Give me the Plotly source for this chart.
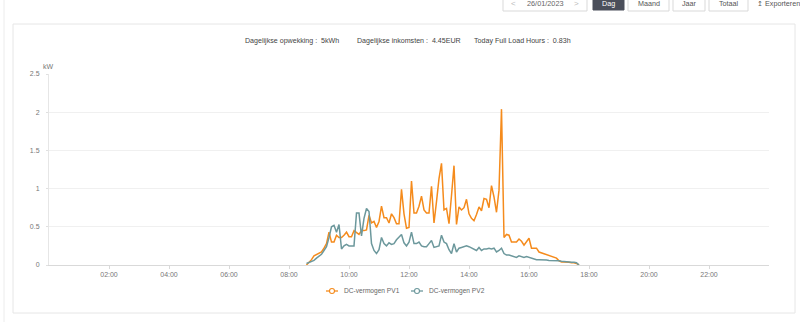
import pandas as pd
import plotly.graph_objects as go

# ---- data -----------------------------------------------------------------
day = "2023-01-26"
start_time = "08:35"          # first sample of the day
sample_step = "5min"          # inverter logging interval

# DC power per string, kW, one value per sample
pv1_kw = [
    0.00, 0.035, 0.07, 0.12, 0.14, 0.16, 0.17, 0.22, 0.28, 0.43,
    0.30, 0.30, 0.39, 0.36, 0.36, 0.39, 0.43, 0.37, 0.37, 0.45,
    0.42, 0.40, 0.45, 0.45, 0.46, 0.65, 0.55, 0.57, 0.49, 0.57,
    0.77, 0.62, 0.62, 0.55, 0.67, 0.62, 0.54, 0.54, 0.99, 0.67,
    0.48, 0.49, 1.10, 0.68, 0.68, 0.77, 0.90, 0.72, 0.68, 0.68,
    1.03, 0.55, 0.83, 1.13, 1.33, 0.72, 0.74, 0.54, 0.91, 1.30,
    0.53, 0.76, 0.72, 0.75, 0.86, 0.67, 0.61, 0.58, 0.66, 0.76,
    0.71, 0.87, 0.86, 0.75, 1.04, 0.89, 0.69, 0.98, 2.04, 0.36,
    0.40, 0.39, 0.30, 0.30, 0.30, 0.34, 0.31, 0.26, 0.30, 0.35,
    0.22, 0.22, 0.22, 0.17, 0.16, 0.15, 0.14, 0.13, 0.12, 0.11,
    0.09, 0.055, 0.04, 0.04, 0.04, 0.035, 0.03, 0.03, 0.02, 0.00,
]
pv2_kw = [
    0.02, 0.03, 0.045, 0.06, 0.09, 0.11, 0.14, 0.19, 0.24, 0.36,
    0.50, 0.52, 0.43, 0.53, 0.21, 0.25, 0.27, 0.25, 0.25, 0.25,
    0.68, 0.68, 0.38, 0.61, 0.74, 0.70, 0.28, 0.19, 0.15, 0.20,
    0.36, 0.28, 0.25, 0.29, 0.27, 0.28, 0.33, 0.37, 0.40, 0.29,
    0.25, 0.30, 0.43, 0.28, 0.28, 0.30, 0.25, 0.24, 0.24, 0.28,
    0.32, 0.23, 0.24, 0.25, 0.39, 0.30, 0.28, 0.20, 0.15, 0.28,
    0.17, 0.22, 0.23, 0.24, 0.25, 0.24, 0.22, 0.21, 0.19, 0.23,
    0.19, 0.21, 0.21, 0.22, 0.21, 0.22, 0.17, 0.19, 0.22, 0.15,
    0.13, 0.13, 0.12, 0.11, 0.10, 0.12, 0.11, 0.10, 0.11, 0.10,
    0.09, 0.07, 0.07, 0.07, 0.07, 0.065, 0.065, 0.06, 0.06, 0.06,
    0.06, 0.055, 0.05, 0.045, 0.04, 0.035, 0.035, 0.035, 0.03, 0.00,
]

series_names = ["DC-vermogen PV1", "DC-vermogen PV2"]
series_colors = ["#f58b1c", "#6c989c"]

x_tick_labels = ["02:00", "04:00", "06:00", "08:00", "10:00",
                 "12:00", "14:00", "16:00", "18:00", "20:00", "22:00"]
y_tick_values = [0, 0.5, 1, 1.5, 2, 2.5]
y_tick_labels = ["0", "0.5", "1", "1.5", "2", "2.5"]
y_unit = "kW"

stat_labels = ["Dagelijkse opwekking", "Dagelijkse inkomsten", "Today Full Load Hours"]
stat_values = ["5kWh", "4.45EUR", "0.83h"]

date_label = "26/01/2023"
period_buttons = ["Dag", "Maand", "Jaar", "Totaal"]
export_label = "\u21a5 Exporteren"

# ---- geometry helpers (pixel -> paper) --------------------------------------
W, H = 800, 322
ML, MR, MT, MB = 49, 31, 74, 57
PW, PH = W - ML - MR, H - MT - MB


def fx(px):
    return (px - ML) / PW


def fy(py):
    return (H - MB - py) / PH


FONT = "Liberation Sans, Arial, sans-serif"

times = pd.date_range(f"{day} {start_time}", periods=len(pv1_kw), freq=sample_step)
x_ticks = [pd.Timestamp(f"{day} {t}") for t in x_tick_labels]

fig = go.Figure()
for name, color, vals in zip(series_names, series_colors, [pv1_kw, pv2_kw]):
    fig.add_trace(go.Scatter(
        x=times, y=vals, mode="lines", name=name, showlegend=False,
        line=dict(color=color, width=1.5), hoverinfo="x+y+name",
    ))

shapes = []
annotations = []

# card outline and left page edge
shapes.append(dict(type="rect", xref="paper", yref="paper",
                   x0=fx(13), x1=fx(795), y0=fy(313), y1=fy(24),
                   line=dict(color="#e6e6e6", width=1), fillcolor="rgba(0,0,0,0)", layer="below"))
shapes.append(dict(type="line", xref="paper", yref="paper",
                   x0=fx(4), x1=fx(4), y0=fy(H), y1=fy(0),
                   line=dict(color="#ececec", width=1), layer="below"))

# toolbar: date picker and period buttons
btn_top, btn_bot = -5, 11
shapes.append(dict(type="rect", xref="paper", yref="paper",
                   x0=fx(503), x1=fx(587), y0=fy(btn_bot), y1=fy(btn_top),
                   line=dict(color="#d9d9d9", width=1), fillcolor="white"))
annotations += [
    dict(text="<", x=fx(513), y=fy(4), font=dict(size=8, color="#bbbbbb")),
    dict(text=date_label, x=fx(545), y=fy(4), font=dict(size=7.3, color="#666666")),
    dict(text=">", x=fx(576), y=fy(4), font=dict(size=8, color="#bbbbbb")),
]
btn_edges = [(593, 624), (628, 669), (673, 705), (709, 748)]
for i, (label, (x0, x1)) in enumerate(zip(period_buttons, btn_edges)):
    active = i == 0
    shapes.append(dict(type="rect", xref="paper", yref="paper",
                       x0=fx(x0), x1=fx(x1), y0=fy(btn_bot if not active else 10), y1=fy(btn_top),
                       line=dict(color="#4a4e5a" if active else "#d9d9d9", width=1),
                       fillcolor="#4a4e5a" if active else "white"))
    annotations.append(dict(text=label, x=fx((x0 + x1) / 2), y=fy(4),
                            font=dict(size=7.2, color="white" if active else "#555555")))
annotations.append(dict(text=export_label, x=fx(755), y=fy(4), xanchor="left",
                        font=dict(size=7.2, color="#555555")))

# daily statistics line
for lab, val, x0 in zip(stat_labels, stat_values, [243, 355, 472]):
    annotations.append(dict(text=f"{lab} :  {val}", x=fx(x0), y=fy(41), xanchor="left",
                            font=dict(size=7.1, color="#444444")))

# y unit
annotations.append(dict(text=y_unit, x=fx(48), y=fy(67), xanchor="center",
                        font=dict(size=7, color="#777777")))

# compact legend: short line with a hollow circle, then the series name
legend_y = 291
for name, color, cx in zip(series_names, series_colors, [332, 417]):
    shapes.append(dict(type="line", xref="paper", yref="paper",
                       x0=fx(cx - 6), x1=fx(cx + 6), y0=fy(legend_y), y1=fy(legend_y),
                       line=dict(color=color, width=1.3)))
    shapes.append(dict(type="circle", xref="paper", yref="paper",
                       x0=fx(cx - 2.5), x1=fx(cx + 2.5), y0=fy(legend_y + 2.5), y1=fy(legend_y - 2.5),
                       line=dict(color=color, width=1.1), fillcolor="white"))
    annotations.append(dict(text=name, x=fx(cx + 10), y=fy(legend_y), xanchor="left",
                            font=dict(size=6.6, color="#666666")))

for a in annotations:
    a.setdefault("xref", "paper")
    a.setdefault("yref", "paper")
    a.setdefault("showarrow", False)
    a.setdefault("yanchor", "middle")
    a.setdefault("xanchor", "center")
    a["font"].setdefault("family", FONT)

fig.update_layout(
    width=W, height=H,
    margin=dict(l=ML, r=MR, t=MT, b=MB, pad=0),
    paper_bgcolor="white", plot_bgcolor="white",
    font=dict(family=FONT, size=7, color="#777777"),
    shapes=shapes, annotations=annotations,
    showlegend=False,
    xaxis=dict(
        range=[pd.Timestamp(f"{day} 00:00"), pd.Timestamp(f"{day} 00:00") + pd.Timedelta(days=1)],
        tickvals=x_ticks, ticktext=x_tick_labels,
        showgrid=False, zeroline=False,
        showline=True, linecolor="#d9d9d9", linewidth=1,
        ticks="outside", ticklen=3, tickcolor="#d9d9d9",
        tickfont=dict(size=7, color="#777777"),
    ),
    yaxis=dict(
        range=[0, 2.5], tickvals=y_tick_values, ticktext=y_tick_labels,
        showgrid=True, gridcolor="#f0f0f0", gridwidth=1, zeroline=False,
        showline=True, linecolor="#e6e6e6", linewidth=1,
        ticks="outside", ticklen=2, tickcolor="#e0e0e0",
        ticklabelstandoff=5,
        tickfont=dict(size=7, color="#777777"),
    ),
)

fig.write_html("out.html")
